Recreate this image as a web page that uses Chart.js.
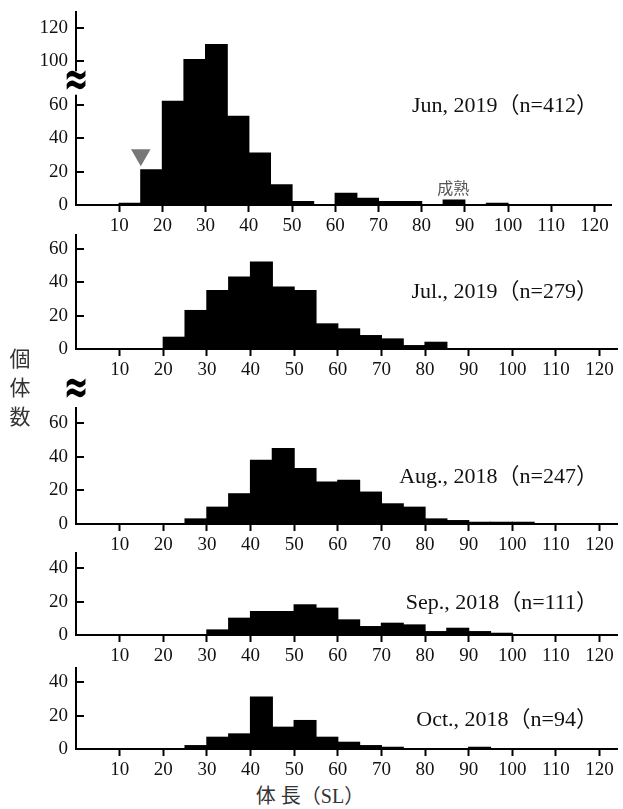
<!DOCTYPE html>
<html>
<head>
<meta charset="utf-8">
<script src="https://cdn.jsdelivr.net/npm/chart.js@4.4.1/dist/chart.umd.min.js"></script>
<style>
  html, body { margin: 0; padding: 0; background: #fff; }
  #wrap { position: relative; width: 623px; height: 809px; overflow: hidden; }
  #wrap canvas { position: absolute; left: 0; }
  .ylab { position: absolute; left: 8px; top: 343px; width: 24px; text-align: center;
          font: 21px "Noto Sans CJK JP"; line-height: 29px; color: #333; }
  .xlab { position: absolute; left: 200px; width: 220px; top: 786px; text-align: center;
          font: 20px "Liberation Serif", "Noto Sans CJK JP"; line-height: 20px; color: #333; }
</style>
</head>
<body>
<div id="wrap">
  <canvas id="c0"></canvas>
  <canvas id="c1"></canvas>
  <canvas id="c2"></canvas>
  <canvas id="c3"></canvas>
  <canvas id="c4"></canvas>
  <div class="ylab">個<br>体<br>数</div>
  <div class="xlab">体 長（SL）</div>
</div>
<script>
// 5 mm length classes, bar centres (0-5 ... 115-120)
const bins = [2.5, 7.5, 12.5, 17.5, 22.5, 27.5, 32.5, 37.5, 42.5, 47.5, 52.5, 57.5,
              62.5, 67.5, 72.5, 77.5, 82.5, 87.5, 92.5, 97.5, 102.5, 107.5, 112.5, 117.5];
const xTicks = [10, 20, 30, 40, 50, 60, 70, 80, 90, 100, 110, 120];

// counts per class
const jun2019 = [0, 0, 1, 21, 62, 101, 110, 53, 31, 12, 2, 0, 7, 4, 2, 2, 0, 3, 0, 1, 0, 0, 0, 0];
const jul2019 = [0, 0, 0, 0, 7, 23, 35, 43, 52, 37, 35, 15, 12, 8, 6, 2, 4, 0, 0, 0, 0, 0, 0, 0];
const aug2018 = [0, 0, 0, 0, 0, 3, 10, 18, 38, 45, 33, 25, 26, 19, 12, 10, 3, 2, 1, 1, 1, 0, 0, 0];
const sep2018 = [0, 0, 0, 0, 0, 0, 3, 10, 14, 14, 18, 16, 9, 5, 7, 6, 2, 4, 2, 1, 0, 0, 0, 0];
const oct2018 = [0, 0, 0, 0, 0, 2, 7, 9, 31, 13, 17, 7, 4, 2, 1, 0, 0, 0, 1, 0, 0, 0, 0, 0];

const junYTicks = [0, 20, 40, 60, 100, 120];
const yTicks60 = [0, 20, 40, 60];
const yTicks40 = [0, 20, 40];

// small-size marker in June
const junMarker = [{ x: 15, y: 30 }];

// June axis is broken between 60 and 100
const BREAK_FROM = 80;
const BREAK_SHIFT = 14;
const brokenAxis = v => (v > BREAK_FROM ? v - BREAK_SHIFT : v);
const plainAxis = v => v;

const panels = [
  { id: 'c0', title: 'Jun, 2019（n=412）', counts: jun2019, yTicks: junYTicks, top: 12, base: 205, yMax: 115.5, titleY: 93, broken: true, marker: junMarker, note: '成熟' },
  { id: 'c1', title: 'Jul., 2019（n=279）', counts: jul2019, yTicks: yTicks60, top: 235, base: 349, yMax: 68.2, titleY: 51 },
  { id: 'c2', title: 'Aug., 2018（n=247）', counts: aug2018, yTicks: yTicks60, top: 408, base: 524, yMax: 69.2, titleY: 41, gapAbove: true },
  { id: 'c3', title: 'Sep., 2018（n=111）', counts: sep2018, yTicks: yTicks40, top: 553, base: 635, yMax: 49, titleY: 26 },
  { id: 'c4', title: 'Oct., 2018（n=94）', counts: oct2018, yTicks: yTicks40, top: 668, base: 749, yMax: 48.4, titleY: 23 },
];

const PAD_TOP = 34;
const X_AXIS_H = 34;
const Y_AXIS_W = 76;
const serif = "'Liberation Serif', serif";

function drawWave(ctx, cx, cy) {
  ctx.save();
  ctx.translate(cx, cy);
  ctx.scale(1, 1.6);
  ctx.fillText('≈', 0, 0);
  ctx.restore();
}

const panelDecor = {
  id: 'panelDecor',
  afterDraw(chart, args, opts) {
    const { ctx, chartArea, scales: { x, y } } = chart;
    ctx.save();

    // tick marks pointing into the plot
    ctx.strokeStyle = '#000';
    ctx.lineWidth = 2;
    y.ticks.forEach(t => {
      const py = Math.round(y.getPixelForValue(t.value));
      ctx.beginPath();
      ctx.moveTo(chartArea.left, py);
      ctx.lineTo(chartArea.left + 8, py);
      ctx.stroke();
    });

    ctx.fillStyle = '#000';
    ctx.textAlign = 'center';
    ctx.textBaseline = 'middle';
    ctx.font = "bold 30px 'DejaVu Sans'";
    if (opts.broken) {
      const y1 = y.getPixelForValue(80), y2 = y.getPixelForValue(66);
      ctx.fillStyle = '#fff';
      ctx.fillRect(chartArea.left - 4, y1, 8, y2 - y1);
      ctx.fillStyle = '#000';
      drawWave(ctx, chartArea.left, y.getPixelForValue(73.5));
    }
    if (opts.gapAbove) {
      drawWave(ctx, chartArea.left, chartArea.top - 17);
    }

    if (opts.note) {
      ctx.font = "16px 'Noto Sans CJK JP'";
      ctx.fillStyle = '#555';
      ctx.fillText(opts.note, x.getPixelForValue(87.3), y.getPixelForValue(10.5));
    }

    ctx.font = "22px 'Liberation Serif', 'Noto Sans CJK JP'";
    ctx.fillStyle = '#111';
    ctx.textAlign = 'right';
    ctx.textBaseline = 'alphabetic';
    ctx.fillText(opts.title, 598, chartArea.bottom - opts.titleY);
    ctx.restore();
  }
};

function makePanel(p) {
  const canvas = document.getElementById(p.id);
  canvas.width = 623;
  canvas.height = (p.base - p.top) + PAD_TOP + X_AXIS_H;
  canvas.style.top = (p.top - PAD_TOP) + 'px';
  const toAxis = p.broken ? brokenAxis : plainAxis;

  const datasets = [{
    type: 'bar',
    data: bins.map((b, i) => ({ x: b, y: toAxis(p.counts[i]) })),
    backgroundColor: '#000',
    borderWidth: 0,
    barPercentage: 1,
    categoryPercentage: 1,
    inflateAmount: 0.6,
  }];
  if (p.marker) {
    datasets.push({
      type: 'scatter',
      data: p.marker,
      pointStyle: 'triangle',
      rotation: 180,
      radius: 11.3,
      backgroundColor: '#777',
      borderWidth: 0,
    });
  }

  return new Chart(canvas, {
    type: 'bar',
    data: { datasets },
    plugins: [panelDecor],
    options: {
      responsive: false,
      animation: false,
      devicePixelRatio: 1,
      events: [],
      layout: { padding: { top: PAD_TOP, right: 6, left: 0, bottom: 0 } },
      plugins: {
        legend: { display: false },
        tooltip: { enabled: false },
        panelDecor: { title: p.title, titleY: p.titleY, broken: p.broken, gapAbove: p.gapAbove, note: p.note },
      },
      scales: {
        x: {
          type: 'linear',
          min: 0,
          max: 124,
          offset: false,
          afterBuildTicks: s => { s.ticks = xTicks.map(v => ({ value: v })); },
          afterFit: s => { s.height = X_AXIS_H; s.paddingLeft = 0; s.paddingRight = 0; },
          ticks: { autoSkip: false, maxRotation: 0, padding: 3, color: '#111', font: { family: serif, size: 19 } },
          grid: { display: true, offset: false, drawOnChartArea: false, drawTicks: true, tickLength: 7, tickWidth: 2, tickColor: '#000' },
          border: { display: true, color: '#000', width: 2 },
        },
        y: {
          min: 0,
          max: p.yMax,
          afterBuildTicks: s => { s.ticks = p.yTicks.map(v => ({ value: toAxis(v) })); },
          afterFit: s => { s.width = Y_AXIS_W; s.paddingTop = 0; s.paddingBottom = 0; },
          ticks: { padding: 8, color: '#111', font: { family: serif, size: 19 }, callback: (v, i) => String(p.yTicks[i]) },
          grid: { display: false, drawTicks: false },
          border: { display: true, color: '#000', width: 2 },
        },
      },
    },
  });
}

panels.forEach(makePanel);
</script>
</body>
</html>
